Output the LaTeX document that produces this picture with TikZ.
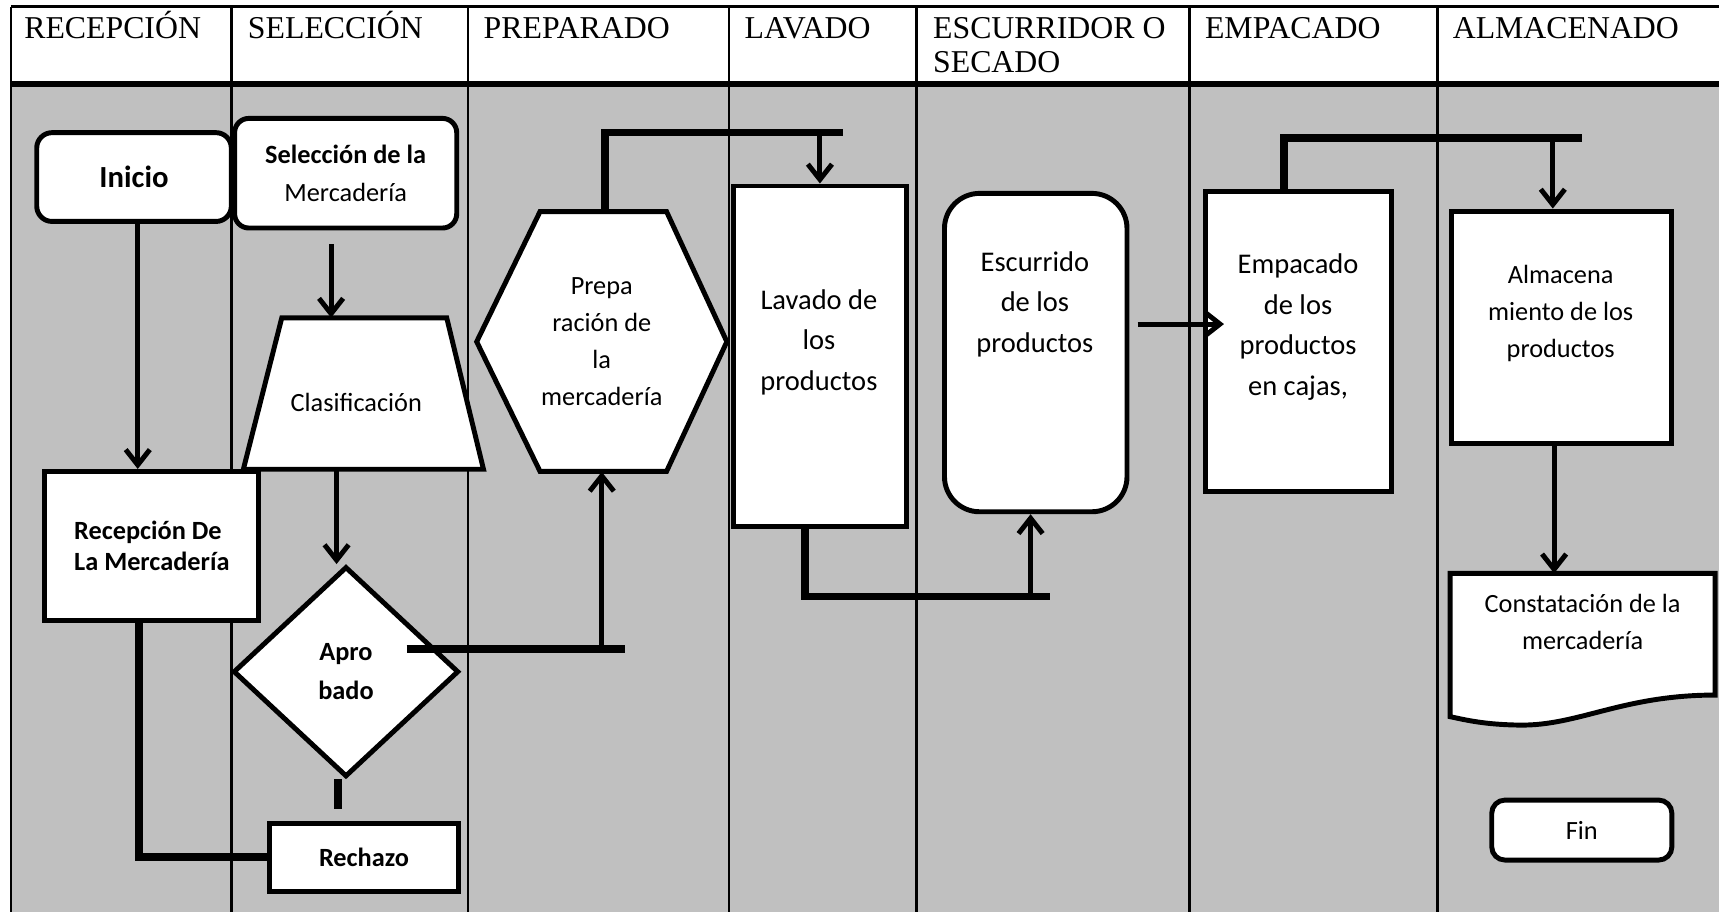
\documentclass[tikz,border=0pt]{standalone}
\usepackage{fontspec}
\setmainfont{Carlito}
\newfontfamily\headfont{Liberation Serif}
\usepackage{tikz}
\usetikzlibrary{arrows.meta,shapes.geometric}
\definecolor{lanegray}{RGB}{192,192,192}

\begin{document}
\begin{tikzpicture}[x=1pt,y=-1pt,font=\fontsize{24}{34}\selectfont,
        lane/.style={line width=2.5pt},
        head/.style={anchor=base west,inner sep=0pt,font=\headfont\fontsize{29}{31}\selectfont},
        box/.style={draw,fill=white,line width=4.5pt,align=center,inner sep=0pt},
        outline/.style={draw,line width=4.5pt,line join=miter},
        txt/.style={align=center,inner sep=0pt},
        flow/.style={line width=4.5pt,-{Straight Barb[length=14pt,width=22pt]}},
        joint/.style={line width=7pt},
        ]
        \useasboundingbox (0,0) rectangle (1568,832);
        \fill[lanegray] (10,78) rectangle (1568,832);
        \draw[line width=3pt] (10,6) -- (1568,6);
        \draw[line width=5.5pt] (10,76.5) -- (1568,76.5);
        \foreach \x in {10,211,427,665,836,1085,1311}
          \draw[lane] (\x,6) -- (\x,832);
        \node[head] (hRecep) at (22,35) {RECEPCIÓN};
        \node[head] (hSelec) at (226,35) {SELECCIÓN};
        \node[head] (hPrep) at (441,35) {PREPARADO};
        \node[head] (hLavado) at (679,35) {LAVADO};
        \node[head,anchor=north west,align=left] (hEscur) at (851,15.5) {ESCURRIDOR O\\SECADO};
        \node[head] (hEmpac) at (1099,35) {EMPACADO};
        \node[head] (hAlmac) at (1325,35) {ALMACENADO};

        \node[box,rounded corners=14pt,minimum width=177.5pt,minimum height=81pt,font=\bfseries\fontsize{28}{34}\selectfont] (inicio) at (122.25,161.5) {Inicio};
        \node[box,rounded corners=13pt,minimum width=202.6pt,minimum height=100pt,font=\fontsize{24}{35}\selectfont] (selec) at (315.3,158) {\textbf{Selección de la}\\Mercadería};
        \draw[outline,fill=white] (257,290) -- (407.5,290) -- (441,428) -- (222,428) -- cycle;
        \node[txt,minimum width=219pt,minimum height=138pt] (clasif) at (325,367) {Clasificación};
        \node[box,align=left,minimum width=195pt,minimum height=136pt,font=\bfseries\fontsize{24}{28}\selectfont] (recep) at (138.5,498) {Recepción De\\La Mercadería};
        \node[box,diamond,minimum width=205.7pt,minimum height=191.8pt,font=\bfseries\fontsize{24}{35}\selectfont] (aprob) at (315.6,612.7) {Apro\\bado};
        \node[box,minimum width=172pt,minimum height=62pt,font=\bfseries\fontsize{24}{28}\selectfont] (rechazo) at (332,782) {Rechazo};
        \draw[outline,fill=white] (492.6,193) -- (608,193) -- (663,311.7) -- (608,430) -- (492.6,430) -- (434.8,311.7) -- cycle;
        \node[txt,minimum width=228.2pt,minimum height=237pt] (prep) at (548.9,311.7) {Prepa\\ración de\\la\\mercadería};
        \node[box,minimum width=158.2pt,minimum height=310.7pt] (lavado) at (747.9,325) {};
        \node[txt,font=\fontsize{26}{37}\selectfont] (lavadotxt) at (747,312) {Lavado de\\los\\productos};
        \node[box,rounded corners=32pt,minimum width=166.5pt,minimum height=290.4pt] (escur) at (944.75,321.6) {};
        \node[txt,font=\fontsize{26}{37}\selectfont] (escurtxt) at (944,277.5) {Escurrido\\de los\\productos};
        \node[box,minimum width=169.3pt,minimum height=273.7pt] (empac) at (1184.35,311.65) {};
        \node[txt,font=\fontsize{26}{37}\selectfont] (empactxt) at (1184,298.5) {Empacado\\de los\\productos\\en cajas,};
        \node[box,minimum width=201.4pt,minimum height=211.9pt] (almac) at (1424.3,298.45) {};
        \node[txt,font=\fontsize{24}{33.5}\selectfont] (almactxt) at (1423.6,286) {Almacena\\miento de los\\productos};
        \draw[outline,fill=white] (1322.7,523) -- (1564.5,523) -- (1564.5,634)
          .. controls (1480,634) and (1440,662) .. (1386.6,661.4)
          .. controls (1355,661) and (1338,657) .. (1322.7,653.7) -- cycle;
        \node[txt,anchor=north,minimum width=241.8pt,minimum height=88pt,font=\fontsize{24}{33.4}\selectfont] (const) at (1443.6,523) {Constatación de la\\mercadería};
        \node[box,rounded corners=12pt,minimum width=164.3pt,minimum height=54.7pt] (fin) at (1442.85,757.15) {Fin};

        \path ([yshift=8pt]clasif.north) coordinate (c1) ([yshift=8pt]clasif.south) coordinate (c2);
        \draw[flow] ([xshift=3.4pt]inicio.south) coordinate (a1) -- (a1 |- recep.north);
        \draw[flow] ([xshift=-13.3pt,yshift=-12.5pt]selec.south) coordinate (a2) -- (a2 |- c1);
        \draw[flow] ([xshift=-18pt]c2) coordinate (a3) -- (a3 |- aprob.north);
        \draw[joint] ([xshift=-7.6pt]aprob.south) -- ([xshift=-24pt,yshift=11pt]rechazo.north);
        \draw[joint] ([xshift=-11.5pt]recep.south) |- (rechazo.west);
        \coordinate (aprobend) at (570,592);
        \draw[joint] ([xshift=55.4pt,yshift=20.7pt]aprob.center) -- (aprobend);
        \draw[flow] (prep.south |- aprobend) -- (prep.south);
        \coordinate (prepend) at (769,121);
        \draw[joint] ([xshift=3pt]prep.north) |- (prepend);
        \draw[flow] (lavado.north |- prepend) -- (lavado.north);
        \coordinate (lavend) at (958,544);
        \draw[joint] ([xshift=-13.5pt]lavado.south) |- (lavend);
        \path ([xshift=-4.7pt]escur.south) coordinate (a4);
        \draw[flow] (a4 |- lavend) -- (a4);
        \draw[flow,shorten >=-19pt] ([xshift=7.5pt,yshift=26pt]escur.east) coordinate (a5) -- (a5 -| empac.west);
        \coordinate (empacend) at (1442.7,126);
        \draw[joint] ([xshift=-13.35pt]empac.north) |- (empacend);
        \path ([xshift=-7.9pt]almac.north) coordinate (a6);
        \draw[flow] (a6 |- empacend) -- (a6);
        \draw[flow] ([xshift=-6.7pt]almac.south) coordinate (a7) -- (a7 |- const.north);
\end{tikzpicture}
\end{document}
